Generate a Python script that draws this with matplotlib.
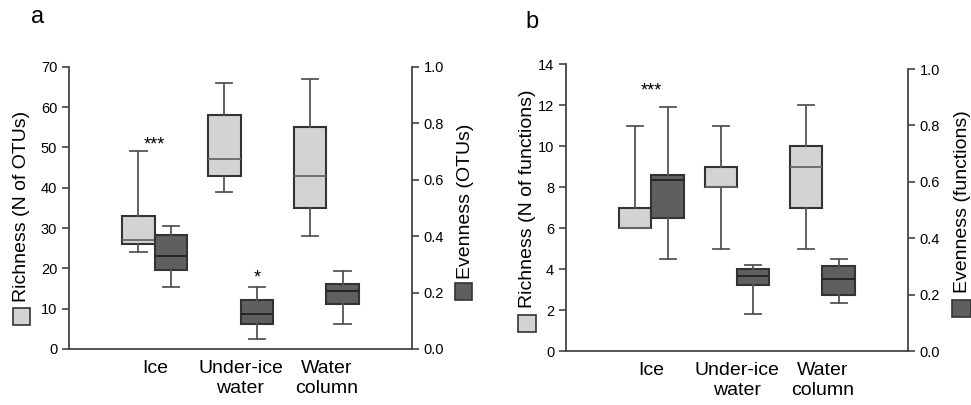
import matplotlib.pyplot as plt
from matplotlib.patches import Rectangle

plt.rcParams['font.family'] = ['Liberation Sans', 'DejaVu Sans']

# Categories
cats = ['Ice', 'Under-ice\nwater', 'Water\ncolumn']

# Panel a - richness (N of OTUs): whisker low, q1, median, q3, whisker high
rich_otu_lo = [24, 39, 28]
rich_otu_q1 = [26, 43, 35]
rich_otu_med = [27, 47, 43]
rich_otu_q3 = [33, 58, 55]
rich_otu_hi = [49, 66, 67]

# Panel a - evenness (OTUs)
even_otu_lo = [0.22, 0.035, 0.09]
even_otu_q1 = [0.28, 0.09, 0.16]
even_otu_med = [0.33, 0.125, 0.205]
even_otu_q3 = [0.405, 0.175, 0.23]
even_otu_hi = [0.435, 0.22, 0.275]

# Panel b - richness (N of functions)
rich_fun_lo = [6, 5, 5]
rich_fun_q1 = [6, 8, 7]
rich_fun_med = [6, 8, 9]
rich_fun_q3 = [7, 9, 10]
rich_fun_hi = [11, 11, 12]

# Panel b - evenness (functions)
even_fun_lo = [0.325, 0.13, 0.17]
even_fun_q1 = [0.47, 0.235, 0.20]
even_fun_med = [0.605, 0.265, 0.255]
even_fun_q3 = [0.625, 0.29, 0.30]
even_fun_hi = [0.865, 0.305, 0.325]

LIGHT = '#d3d3d3'
DARK = '#5f5f5f'
EDGE = '#333333'
AXC = '#444444'
W = 0.38


def make_stats(lo, q1, med, q3, hi):
    return [dict(whislo=a, q1=b, med=c, q3=d, whishi=e, fliers=[])
            for a, b, c, d, e in zip(lo, q1, med, q3, hi)]


def draw_boxes(ax, stats, pos, fill, medcol):
    bp = ax.bxp(stats, positions=pos, widths=W, patch_artist=True,
                showfliers=False, manage_ticks=False)
    for b in bp['boxes']:
        b.set_facecolor(fill)
        b.set_edgecolor(EDGE)
        b.set_linewidth(1.5)
    for l in bp['whiskers'] + bp['caps']:
        l.set_color('#555555')
        l.set_linewidth(1.3)
    for m in bp['medians']:
        m.set_color(medcol)
        m.set_linewidth(1.3)


def style(ax, ax2, left_lim, left_ticks, right_top):
    ax.set_xlim(0, 4)
    ax.set_ylim(*left_lim)
    ax.set_yticks(left_ticks)
    ax.set_xticks([1, 2, 3])
    ax.set_xticklabels(cats, fontsize=14)
    ax.tick_params(axis='x', length=0, pad=8)
    ax.tick_params(axis='y', direction='out', length=5, color=AXC, labelsize=10.5, width=1.2)
    ax2.set_ylim(0, right_top)
    ax2.set_yticks([0, 0.2, 0.4, 0.6, 0.8, 1.0])
    ax2.set_yticklabels(['0.0', '0.2', '0.4', '0.6', '0.8', '1.0'])
    ax2.tick_params(axis='y', direction='out', length=5, color=AXC, labelsize=10.5, width=1.2)
    for s in ['top', 'right']:
        ax.spines[s].set_visible(False)
    for s in ['top', 'left', 'bottom']:
        ax2.spines[s].set_visible(False)
    ax2.spines['right'].set_bounds(0, 1)
    for s in ['left', 'bottom']:
        ax.spines[s].set_color(AXC)
        ax.spines[s].set_linewidth(1.3)
    ax2.spines['right'].set_color(AXC)
    ax2.spines['right'].set_linewidth(1.3)


fig = plt.figure(figsize=(9.71, 4.05), dpi=100)

# Panel a
ax1 = fig.add_axes([0.0711, 0.1383, 0.3532, 0.697])
ax1b = ax1.twinx()
pos = [1, 2, 3]
draw_boxes(ax1, make_stats(rich_otu_lo, rich_otu_q1, rich_otu_med, rich_otu_q3, rich_otu_hi),
           [p - W / 2 for p in pos], LIGHT, '#666666')
draw_boxes(ax1b, make_stats(even_otu_lo, even_otu_q1, even_otu_med, even_otu_q3, even_otu_hi),
           [p + W / 2 for p in pos], DARK, '#222222')
style(ax1, ax1b, (0, 70), range(0, 71, 10), 1.0)
ax1.text(1.0, 49.5, '***', ha='center', va='baseline', fontsize=13)
ax1.text(2.0 + W / 2, 16.6, '*', ha='center', va='baseline', fontsize=13)

# Panel b
ax2 = fig.add_axes([0.5829, 0.1333, 0.3522, 0.7086])
ax2b = ax2.twinx()
draw_boxes(ax2, make_stats(rich_fun_lo, rich_fun_q1, rich_fun_med, rich_fun_q3, rich_fun_hi),
           [p - W / 2 for p in pos], LIGHT, '#666666')
draw_boxes(ax2b, make_stats(even_fun_lo, even_fun_q1, even_fun_med, even_fun_q3, even_fun_hi),
           [p + W / 2 for p in pos], DARK, '#222222')
style(ax2, ax2b, (0, 14), range(0, 15, 2), 287 / 282)
ax2.text(1.0, 12.46, '***', ha='center', va='baseline', fontsize=13)

# Axis labels with legend squares
H = 405.0
Wf = 971.0


def ylab(x, ybot, text, sq, fill):
    fig.text(x / Wf, 1 - ybot / H, text, rotation=90, ha='center', va='bottom', fontsize=14)
    fig.add_artist(Rectangle((sq[0] / Wf, 1 - sq[3] / H), (sq[1] - sq[0]) / Wf,
                             (sq[3] - sq[2]) / H, transform=fig.transFigure,
                             facecolor=fill, edgecolor=EDGE, linewidth=1.2))


ylab(22, 302, 'Richness (N of OTUs)', (13, 30, 308, 325), LIGHT)
ylab(465, 279, 'Evenness (OTUs)', (455, 472, 283, 300), DARK)
ylab(528, 308, 'Richness (N of functions)', (518, 536, 315, 332), LIGHT)
ylab(962, 293, 'Evenness (functions)', (952, 971, 300, 317), DARK)

fig.text(38 / Wf, 1 - 17 / H, 'a', ha='center', va='center', fontsize=17)
fig.text(532 / Wf, 1 - 22 / H, 'b', ha='center', va='center', fontsize=17)

plt.savefig('out.png', dpi=100)
